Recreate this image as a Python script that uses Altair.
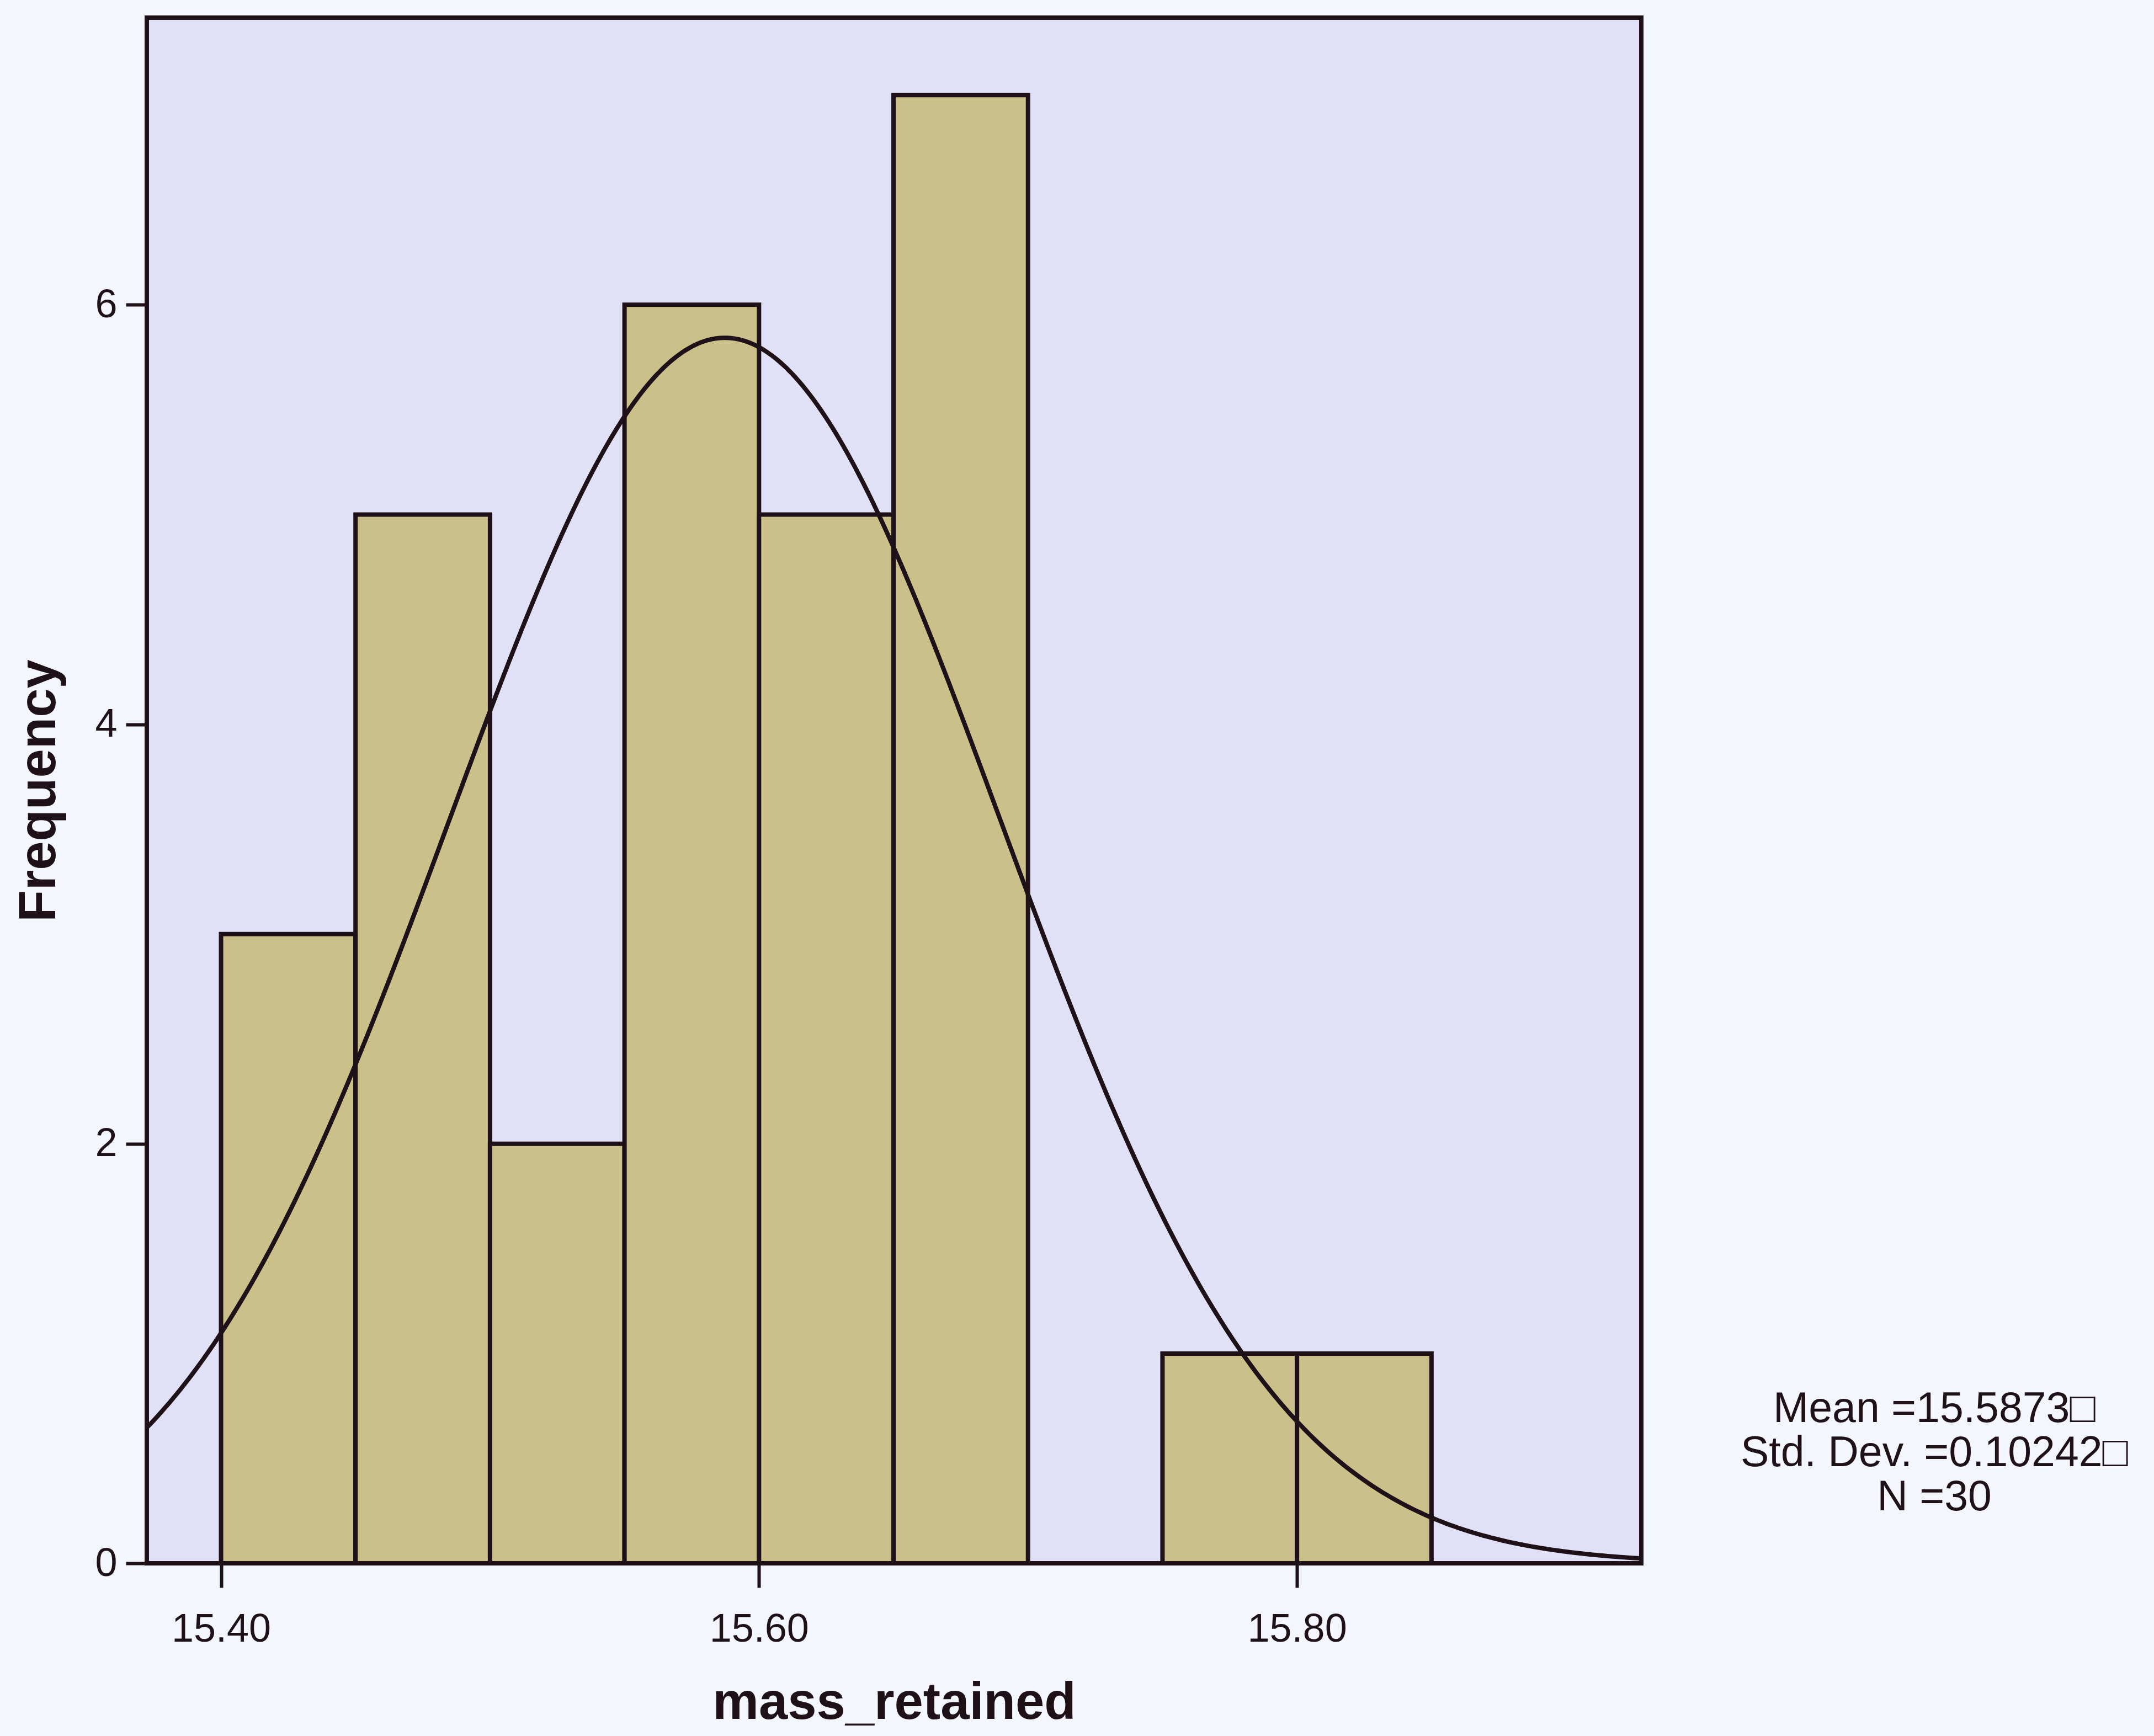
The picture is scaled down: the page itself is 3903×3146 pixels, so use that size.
import altair as alt
import numpy as np
import pandas as pd

# Histogram bins (mass_retained) and frequencies
bin_start = [15.40, 15.45, 15.50, 15.55, 15.60, 15.65, 15.70, 15.75, 15.80]
bin_end = [15.45, 15.50, 15.55, 15.60, 15.65, 15.70, 15.75, 15.80, 15.85]
frequency = [3, 5, 2, 6, 5, 7, 0, 1, 1]

# Summary statistics shown on the chart
MEAN = 15.5873
SD = 0.10242
N = 30
BIN_WIDTH = 0.05

x_ticks = [15.40, 15.60, 15.80]
y_ticks = [0, 2, 4, 6]
stats_lines = ["Mean =15.5873\u25a1", "Std. Dev. =0.10242\u25a1", "N =30"]

X_DOMAIN = [15.3724, 15.928]
Y_DOMAIN = [0, 7.369]

bars = pd.DataFrame({"start": bin_start, "end": bin_end, "count": frequency})
bars = bars[bars["count"] > 0].copy()
bars["base"] = 0

# Normal curve defined by the stated mean / std. dev., scaled to counts
xs = np.linspace(X_DOMAIN[0], X_DOMAIN[1], 400)
ys = N * BIN_WIDTH * np.exp(-0.5 * ((xs - MEAN) / SD) ** 2) / (SD * np.sqrt(2 * np.pi))
curve = pd.DataFrame({"x": xs, "y": ys})

FONT = "Liberation Sans"
DARK = "#1e1218"

xscale = alt.Scale(domain=X_DOMAIN, nice=False, zero=False)
yscale = alt.Scale(domain=Y_DOMAIN, nice=False)

xaxis = alt.Axis(
    title="mass_retained", values=x_ticks, format=".2f", grid=False, domain=False,
    tickSize=44, tickWidth=6, tickColor=DARK, labelFontSize=72, labelFont=FONT,
    labelColor=DARK, labelPadding=40, labelLimit=0, titleFontSize=94, titleFont=FONT,
    titleFontWeight="bold", titleColor=DARK, titlePadding=52,
)
yaxis = alt.Axis(
    title="Frequency", values=y_ticks, format="d", grid=False, domain=False,
    tickSize=38, tickWidth=6, tickColor=DARK, labelFontSize=72, labelFont=FONT,
    labelColor=DARK, labelPadding=16, labelLimit=0, titleFontSize=94, titleFont=FONT,
    titleFontWeight="bold", titleColor=DARK, titlePadding=52,
)

bar_layer = alt.Chart(bars).mark_bar(
    fill="#cbbf8a", stroke=DARK, strokeWidth=8, opacity=1
).encode(
    x=alt.X("start:Q", scale=xscale, axis=xaxis),
    x2="end:Q",
    y=alt.Y("count:Q", scale=yscale, axis=yaxis),
    y2="base:Q",
)

curve_layer = alt.Chart(curve).mark_line(
    color=DARK, strokeWidth=8, clip=True
).encode(
    x=alt.X("x:Q", scale=xscale),
    y=alt.Y("y:Q", scale=yscale),
)

text_layer = alt.Chart(pd.DataFrame({"t": [0]})).mark_text(
    text=stats_lines, font=FONT, fontSize=77, lineHeight=80,
    align="center", baseline="middle", color=DARK,
).encode(
    x=alt.value(3239),
    y=alt.value(2522),
)

chart = alt.layer(bar_layer, curve_layer, text_layer).properties(
    width=2708,
    height=2801,
    background="#f4f6fd",
    padding={"left": 266, "top": 32, "right": 929, "bottom": 313},
    autosize=alt.AutoSizeParams(type="none"),
).configure_view(
    fill="#e0e1f7", stroke=DARK, strokeWidth=8,
)

chart.save("out.html", embed_options={"renderer": "svg", "actions": False})
